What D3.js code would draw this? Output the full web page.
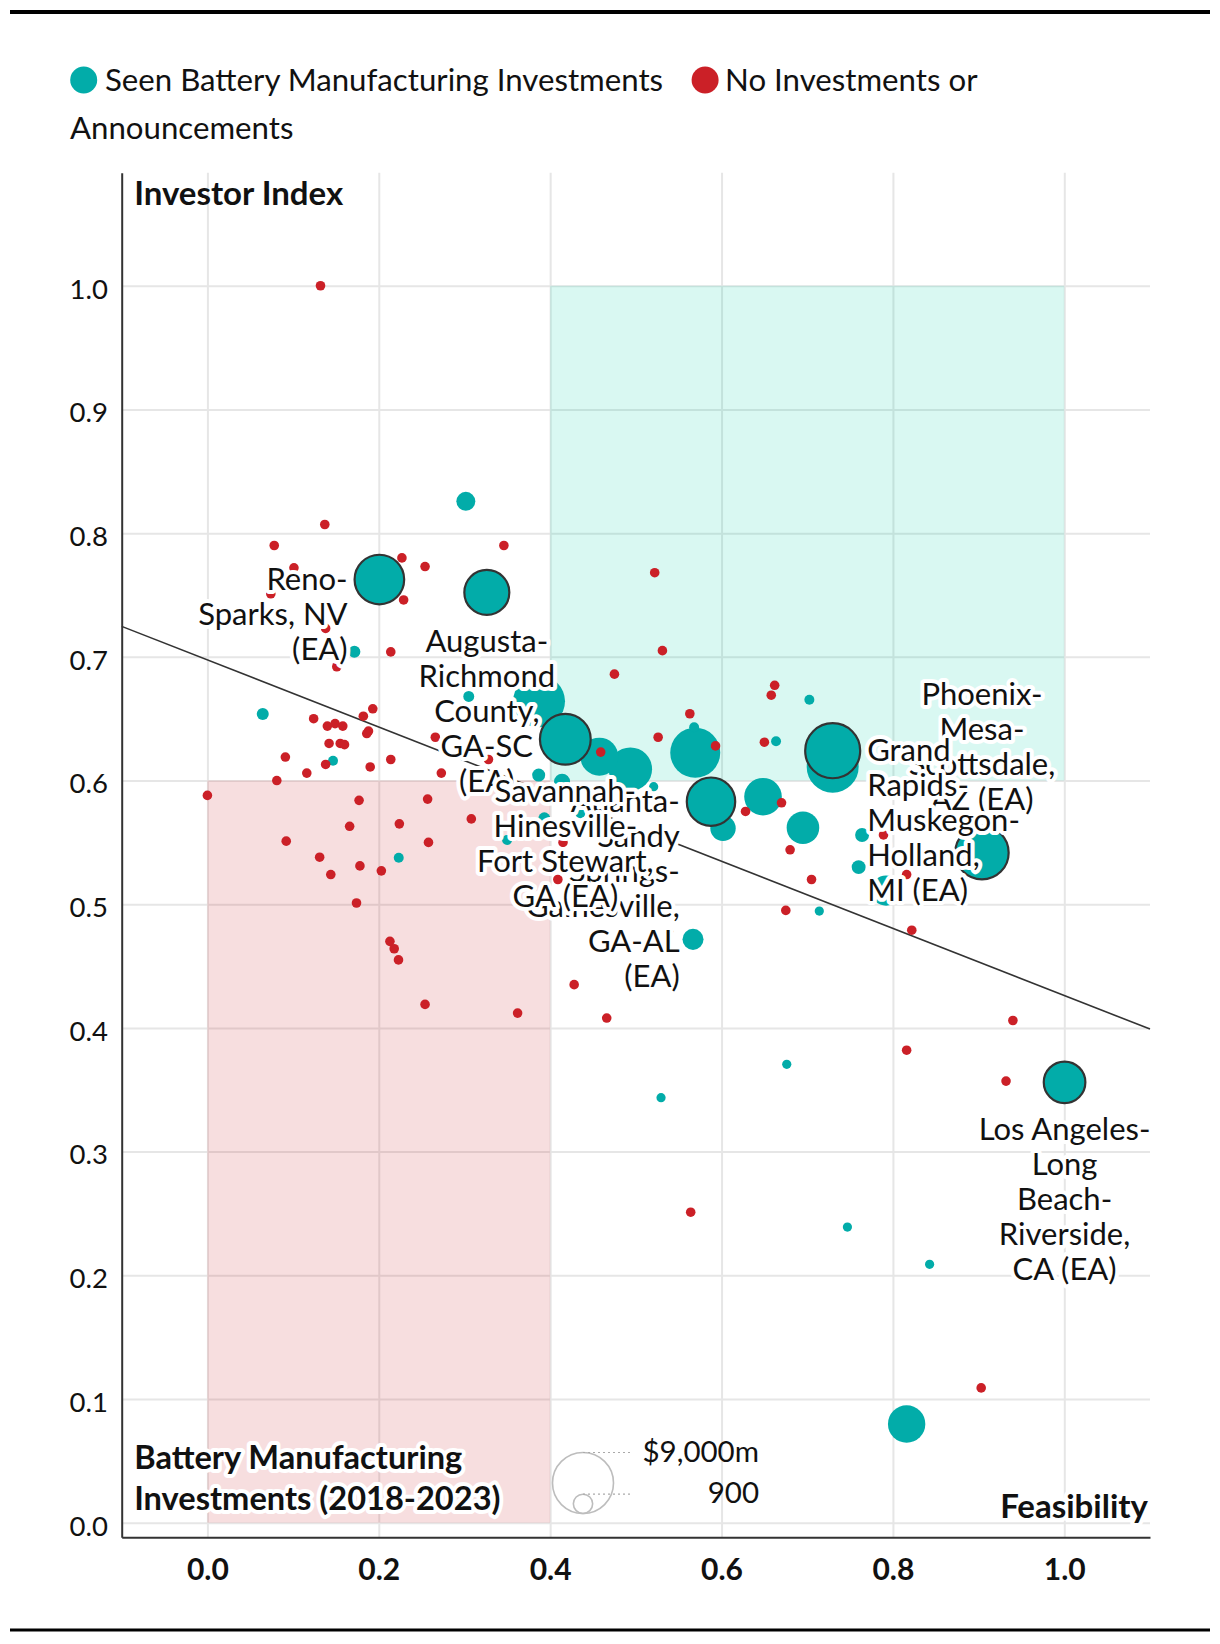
<!DOCTYPE html>
<html><head><meta charset="utf-8">
<script src="https://cdn.jsdelivr.net/npm/d3@7"></script>
<style>
html,body{margin:0;padding:0;background:#fff;}
svg{display:block;font-family:Lato,"Noto Sans",sans-serif;}
</style></head><body>
<svg id="chart" width="1220" height="1644"></svg>
<script>
// ---------- DATA ----------
const seriesNames = ["Seen Battery Manufacturing Investments", "No Investments or", "Announcements"];
const seriesColors = ["#02aca9", "#cb2027"];
const xTicks = [0, 0.2, 0.4, 0.6, 0.8, 1.0];
const yTicks = [0, 0.1, 0.2, 0.3, 0.4, 0.5, 0.6, 0.7, 0.8, 0.9, 1.0];
const xTitle = "Feasibility";
const yTitle = "Investor Index";
const sizeTitle = ["Battery Manufacturing", "Investments (2018-2023)"];
const sizeLegendValues = [9000, 900];
const sizeLegendLabels = ["$9,000m", "900"];
const trendIntercept = 0.6975;
const trendSlope = -0.2713;
const goodZoneX = [0.4, 1.0], goodZoneY = [0.6, 1.0];
const badZoneX = [0.0, 0.4], badZoneY = [0.0, 0.6];

// Unlabelled metros with battery manufacturing investments ($m)
const invFeasibility = [0.7297,0.387,0.5693,0.4574,0.4936,0.6484,0.695,0.6017,0.816,0.5667,0.3016,0.792,0.764,0.760,0.1715,0.305,0.0646,0.1466,0.2233,0.3866,0.4139,0.5208,0.568,0.3497,0.3932,0.4352,0.5325,0.7025,0.6636,0.7141,0.6761,0.5294,0.7469,0.8428];
const invIndex       = [0.6112,0.664,0.6225,0.6193,0.6092,0.5869,0.5618,0.5614,0.0798,0.4716,0.8257,0.511,0.556,0.530,0.7041,0.668,0.6538,0.616,0.5376,0.6044,0.599,0.595,0.643,0.5519,0.5694,0.5735,0.5573,0.6653,0.6317,0.4945,0.3706,0.3436,0.239,0.2089];
const invValue       = [6540,6540,6050,3490,4560,3420,2570,1560,3380,1070,870,2180,470,470,350,290,350,240,240,410,620,200,240,240,350,240,240,240,240,200,200,200,200,200];

// Metros with no investments or announcements
const noFeasibility = [0.132,0.137,0.078,0.346,0.227,0.254,0.522,0.229,0.074,0.101,0.138,0.151,0.214,0.531,0.475,0.124,0.193,0.182,0.140,0.149,0.158,0.188,0.186,0.266,0.142,0.155,0.160,0.091,0.138,0.190,0.214,0.116,0.081,0.273,0.000,0.177,0.257,0.308,0.166,0.224,0.092,0.258,0.131,0.144,0.178,0.203,0.174,0.213,0.218,0.223,0.254,0.362,0.466,0.428,0.409,0.415,0.328,0.459,0.526,0.563,0.593,0.628,0.662,0.658,0.650,0.670,0.680,0.705,0.675,0.822,0.789,0.816,0.538,0.940,0.816,0.932,0.564,0.903];
const noIndex       = [1.000,0.807,0.790,0.790,0.780,0.773,0.768,0.746,0.751,0.772,0.723,0.692,0.704,0.705,0.686,0.650,0.658,0.652,0.644,0.646,0.644,0.640,0.638,0.635,0.630,0.630,0.629,0.619,0.613,0.611,0.617,0.606,0.600,0.606,0.588,0.584,0.585,0.569,0.563,0.565,0.551,0.550,0.538,0.524,0.531,0.527,0.501,0.470,0.464,0.455,0.419,0.412,0.408,0.435,0.520,0.550,0.617,0.623,0.635,0.654,0.628,0.575,0.677,0.669,0.631,0.582,0.544,0.520,0.495,0.479,0.556,0.524,0.478,0.406,0.382,0.357,0.251,0.109];

// Labelled metros (all with investments)
const labelNames = ["Reno-Sparks, NV (EA)","Augusta-Richmond County, GA-SC (EA)","Phoenix-Mesa-Scottsdale, AZ (EA)","Atlanta-Sandy Springs-Gainesville, GA-AL (EA)","Savannah-Hinesville-Fort Stewart, GA (EA)","Grand Rapids-Muskegon-Holland, MI (EA)","Los Angeles-Long Beach-Riverside, CA (EA)"];
const labelLines = [["Reno-","Sparks, NV","(EA)"],["Augusta-","Richmond","County,","GA-SC","(EA)"],["Phoenix-","Mesa-","Scottsdale,","AZ (EA)"],["Atlanta-","Sandy","Springs-","Gainesville,","GA-AL","(EA)"],["Savannah-","Hinesville-","Fort Stewart,","GA (EA)"],["Grand","Rapids-","Muskegon-","Holland,","MI (EA)"],["Los Angeles-","Long","Beach-","Riverside,","CA (EA)"]];
const labelFeasibility = [0.2007,0.3261,0.9039,0.5877,0.4177,0.7297,1.0003];
const labelIndex       = [0.7625,0.7521,0.5417,0.5829,0.6334,0.6241,0.356];
const labelValue       = [5950,4900,6900,5670,6240,7320,4190];
const labelSide        = ["left","below","above","left","below","right","below"];

// ---------- CHART ----------
const svg = d3.select("#chart");
const L = 121.7, R = 1150, T = 172.7, B = 1537.3;
const x = d3.scaleLinear().domain([-0.1, 1.1]).range([L, R]);
const y = d3.scaleLinear().domain([-0.0118, 1.0914]).range([B, T]);
const r = d3.scaleSqrt().domain([0, 9000]).range([0, 30.5]);
const minR = 4.6, noR = 4.8;
const rad = v => Math.max(minR, r(v));

const halo = sel => sel.attr("stroke", "#fff").attr("stroke-width", 8)
  .attr("stroke-linejoin", "round").attr("paint-order", "stroke");

// top & bottom rules
svg.append("rect").attr("x", 10).attr("y", 10).attr("width", 1200).attr("height", 4).attr("fill", "#000");
svg.append("rect").attr("x", 10).attr("y", 1628.5).attr("width", 1200).attr("height", 3).attr("fill", "#000");

// legend
const lg = svg.append("g").style("font-size", "31.2px").attr("fill", "#111");
lg.append("circle").attr("cx", 83.7).attr("cy", 80).attr("r", 13.5).attr("fill", seriesColors[0]);
const t1 = lg.append("text").attr("x", 105).attr("y", 91).text(seriesNames[0]);
const t1end = 105 + t1.node().getComputedTextLength();
lg.append("circle").attr("cx", t1end + 42).attr("cy", 80).attr("r", 13.5).attr("fill", seriesColors[1]);
lg.append("text").attr("x", t1end + 62).attr("y", 91).text(seriesNames[1]);
lg.append("text").attr("x", 70).attr("y", 139).text(seriesNames[2]);

// gridlines
const grid = svg.append("g");
grid.append("g").attr("transform", `translate(${L},0)`)
  .call(d3.axisLeft(y).tickValues(yTicks).tickSize(-(R - L)).tickFormat(""))
  .call(g => g.select(".domain").remove())
  .selectAll("line").attr("stroke", "#e6e6e6").attr("stroke-width", 2);
grid.append("g").attr("transform", `translate(0,${B})`)
  .call(d3.axisBottom(x).tickValues(xTicks).tickSize(-(B - T)).tickFormat(""))
  .call(g => g.select(".domain").remove())
  .selectAll("line").attr("stroke", "#e6e6e6").attr("stroke-width", 2);

// zones
svg.append("rect")
  .attr("x", x(goodZoneX[0])).attr("width", x(goodZoneX[1]) - x(goodZoneX[0]))
  .attr("y", y(goodZoneY[1])).attr("height", y(goodZoneY[0]) - y(goodZoneY[1]))
  .attr("fill", "rgb(0,210,170)").attr("fill-opacity", 0.15);
svg.append("rect")
  .attr("x", x(badZoneX[0])).attr("width", x(badZoneX[1]) - x(badZoneX[0]))
  .attr("y", y(badZoneY[1])).attr("height", y(badZoneY[0]) - y(badZoneY[1]))
  .attr("fill", "rgb(204,34,40)").attr("fill-opacity", 0.15);

// axes
const yAx = svg.append("g").attr("transform", `translate(${L},0)`)
  .call(d3.axisLeft(y).tickValues(yTicks).tickSize(0).tickSizeOuter(0).tickPadding(13.7).tickFormat(d3.format(".1f")));
yAx.select(".domain").attr("stroke", "#333").attr("stroke-width", 2);
yAx.selectAll("text").attr("dy", "0.45em").style("font-size", "27.5px").style("font-family", "Lato").attr("fill", "#111");
const xAx = svg.append("g").attr("transform", `translate(0,${B})`)
  .call(d3.axisBottom(x).tickValues(xTicks).tickSize(0).tickSizeOuter(0).tickPadding(21.5).tickFormat(d3.format(".1f")));
xAx.select(".domain").attr("stroke", "#333").attr("stroke-width", 2);
xAx.selectAll("text").style("font-size", "30px").style("font-weight", "bold").style("font-family", "Lato").attr("fill", "#111");

// trend line
svg.append("line")
  .attr("x1", x(-0.1)).attr("y1", y(trendIntercept + trendSlope * -0.1))
  .attr("x2", x(1.1)).attr("y2", y(trendIntercept + trendSlope * 1.1))
  .attr("stroke", "#333").attr("stroke-width", 1.6);

// points
const inv = invFeasibility.map((f, i) => ({f, v: invIndex[i], val: invValue[i]})).sort((a, b) => b.val - a.val);
const none = noFeasibility.map((f, i) => ({f, v: noIndex[i]}));
const labelled = labelFeasibility.map((f, i) => ({f, v: labelIndex[i], val: labelValue[i], lines: labelLines[i], side: labelSide[i], name: labelNames[i]}));

svg.append("g").selectAll("circle").data(inv).join("circle")
  .attr("cx", d => x(d.f)).attr("cy", d => y(d.v)).attr("r", d => rad(d.val))
  .attr("fill", seriesColors[0]);
svg.append("g").selectAll("circle").data(none).join("circle")
  .attr("cx", d => x(d.f)).attr("cy", d => y(d.v)).attr("r", noR)
  .attr("fill", seriesColors[1]);
svg.append("g").selectAll("circle").data(labelled.slice().sort((a, b) => b.val - a.val)).join("circle")
  .attr("cx", d => x(d.f)).attr("cy", d => y(d.v)).attr("r", d => rad(d.val))
  .attr("fill", seriesColors[0]).attr("stroke", "#333").attr("stroke-width", 2.2);

// labels
const LH = 35;
const lab = svg.append("g").style("font-size", "31px").attr("fill", "#111");
labelled.forEach(d => {
  const cx = x(d.f), cy = y(d.v), rr = rad(d.val);
  let tx, ty0, anchor;
  if (d.side === "left") { tx = cx - rr - 7; ty0 = cy + 10.5; anchor = "end"; }
  else if (d.side === "right") { tx = cx + rr + 7; ty0 = cy + 10.5; anchor = "start"; }
  else if (d.side === "below") { tx = cx; ty0 = cy + rr + 37; anchor = "middle"; }
  else { tx = cx; ty0 = cy - rr - 16 - LH * (d.lines.length - 1); anchor = "middle"; }
  const t = lab.append("text").attr("text-anchor", anchor).call(halo);
  d.lines.forEach((ln, i) => t.append("tspan").attr("x", tx).attr("y", ty0 + i * LH).text(ln));
});

// axis titles
svg.append("text").attr("x", L + 12.5).attr("y", 204.5).text(yTitle)
  .style("font-size", "33px").style("font-weight", "bold").attr("fill", "#111");
svg.append("text").attr("x", R - 2).attr("y", 1517.5).attr("text-anchor", "end").text(xTitle)
  .style("font-size", "33px").style("font-weight", "bold").attr("fill", "#111").call(halo);
const st = svg.append("text").style("font-size", "32.6px").style("font-weight", "bold").attr("fill", "#111").call(halo);
sizeTitle.forEach((s, i) => st.append("tspan").attr("x", L + 12.5).attr("y", 1468.5 + i * 41).text(s));

// size legend
const sl = svg.append("g");
const slx = 583, slBottom = 1513.5;
sizeLegendValues.forEach((v, i) => {
  const rr = r(v);
  sl.append("circle").attr("cx", slx).attr("cy", slBottom - rr).attr("r", rr)
    .attr("fill", "none").attr("stroke", "#bdbdbd").attr("stroke-width", 1.6);
  sl.append("line").attr("x1", slx).attr("x2", 632).attr("y1", slBottom - 2 * rr).attr("y2", slBottom - 2 * rr)
    .attr("stroke", "#aaa").attr("stroke-width", 1.2).attr("stroke-dasharray", "2,3");
  sl.append("text").attr("x", 759).attr("y", slBottom - 2 * rr + 9).attr("text-anchor", "end")
    .style("font-size", "29.5px").attr("fill", "#111").text(sizeLegendLabels[i]);
});
</script>
</body></html>
